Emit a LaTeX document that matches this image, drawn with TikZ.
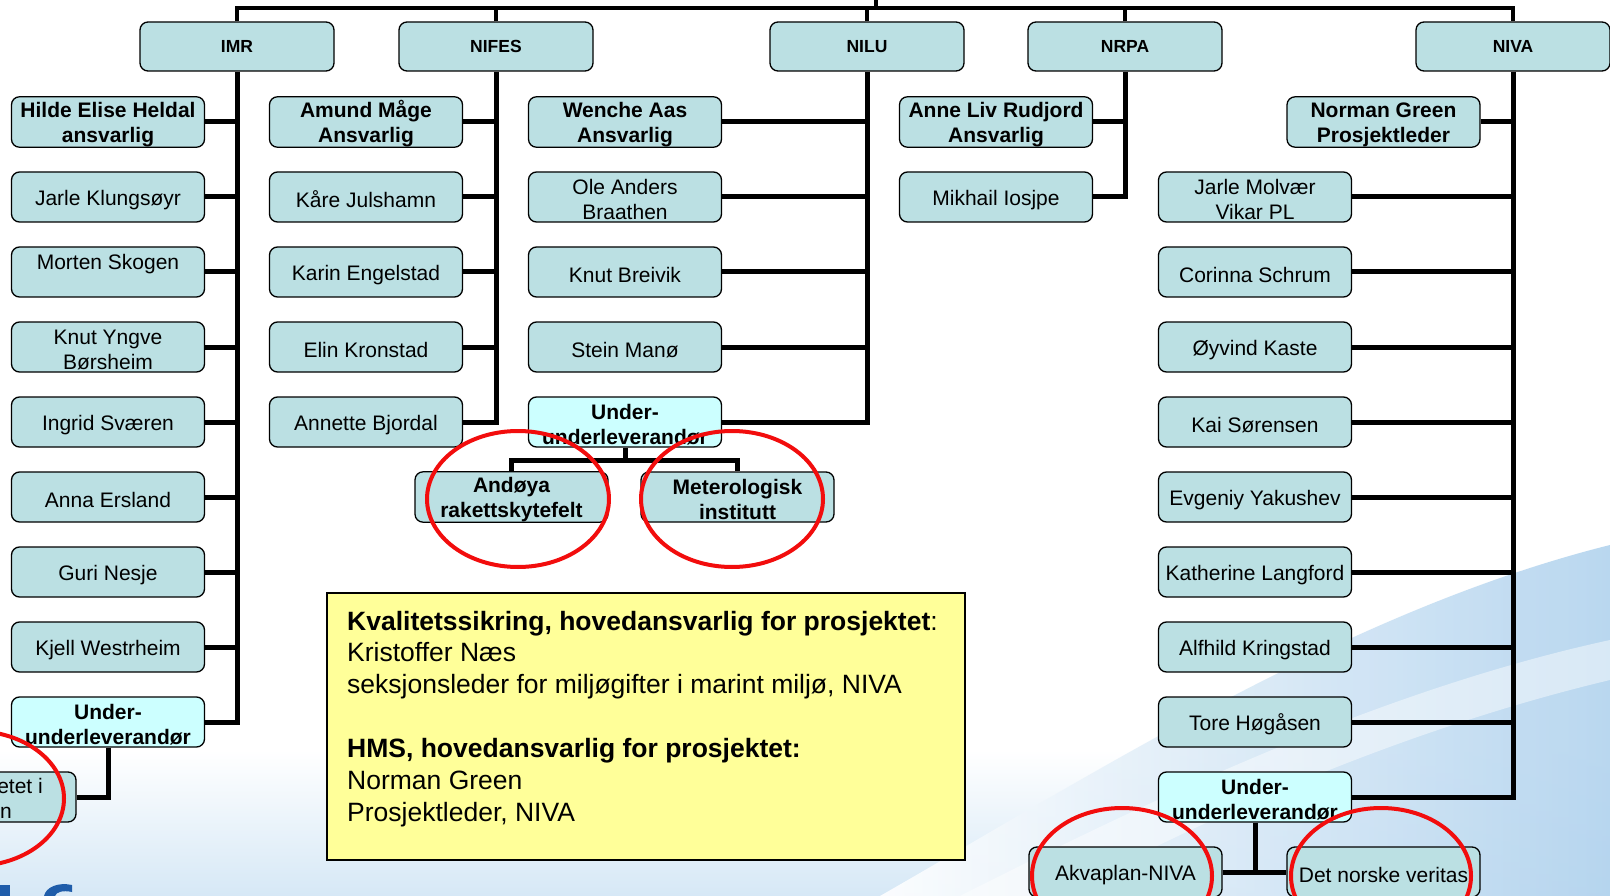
\documentclass[tikz,border=0pt]{standalone}
\usepackage{fontspec}
\setmainfont{Liberation Sans}
\definecolor{boxblue}{HTML}{BBE0E3}
\definecolor{subcyan}{HTML}{CCFFFF}
\definecolor{yellowbg}{HTML}{FFFF99}
\definecolor{bgblue}{HTML}{D6E8F6}
\definecolor{swirlblue}{HTML}{B2D3EE}
\definecolor{logoblue}{HTML}{1F5DAA}
\definecolor{ringred}{HTML}{F20D0D}
\newcommand{\fs}{\rule{0pt}{21pt}}
\begin{document}
\begin{tikzpicture}[x=1pt,y=-1pt,
  person/.style={draw=black, line width=1.3pt, fill=boxblue, rounded corners=8pt,
    minimum width=193pt, minimum height=50pt, inner sep=0pt, align=center,
    font=\fontsize{21}{25}\selectfont},
  lead/.style={person, font=\bfseries\fontsize{21}{25}\selectfont},
  subbox/.style={lead, fill=subcyan},
  head/.style={person, font=\bfseries\fontsize{17.5}{21}\selectfont, minimum width=194pt, minimum height=49pt},
  conn/.style={line width=5pt},
  topline/.style={line width=4pt},
  ring/.style={draw=ringred, line width=4pt},
  qtext/.style={anchor=base west, inner sep=0pt, font=\fontsize{26.5}{32}\selectfont},
  frag/.style={anchor=base east, inner sep=0pt, font=\fontsize{21}{25}\selectfont}]
\useasboundingbox (0,0) rectangle (1610,896);
% background
\fill[white] (0,0) rectangle (1610,896);
\shade[top color=white, bottom color=bgblue] (0,750) rectangle (1610,896);
\shade[left color=white, right color=swirlblue, opacity=0.9]
  (880,896) .. controls (1100,770) and (1350,610) .. (1610,545) -- (1610,896) -- cycle;
\fill[white, opacity=0.45]
  (960,896) .. controls (1150,800) and (1380,690) .. (1610,640) -- (1610,680)
  .. controls (1400,730) and (1200,820) .. (1060,896) -- cycle;
\fill[logoblue] (0,885) rectangle (10,896);
\fill[logoblue] (44,896) .. controls (46,887) and (58,882) .. (72,885) -- (72,892)
  .. controls (63,890) and (56,892) .. (55,896) -- cycle;

% headers
\node[head] (imr) at (237,46.5) {IMR};
\node[head] (nifes) at (496,46.5) {NIFES};
\node[head] (nilu) at (867,46.5) {NILU};
\node[head] (nrpa) at (1125,46.5) {NRPA};
\node[head] (niva) at (1513,46.5) {NIVA};
\coordinate (topin) at (876,0);
\coordinate (topj) at (876,8);
\draw[topline] (imr.north) -- (imr.north |- topj) -- (niva.north |- topj) -- (niva.north);
\draw[topline] (topin) -- (topj);
\draw[topline] (nifes.north) -- (nifes.north |- topj);
\draw[topline] (nilu.north) -- (nilu.north |- topj);
\draw[topline] (nrpa.north) -- (nrpa.north |- topj);

% IMR
\node[lead] (hilde) at (108,122) {\fs Hilde Elise Heldal\\ansvarlig};
\node[person] (jarlek) at (108,197) {\fs Jarle Klungsøyr};
\node[person] (morten) at (108,272) {\fs Morten Skogen\\\mbox{}};
\node[person] (knuty) at (108,347) {\fs Knut Yngve\\Børsheim};
\node[person] (ingrid) at (108,422) {\fs Ingrid Sværen};
\node[person] (anna) at (108,497) {\fs Anna Ersland};
\node[person] (guri) at (108,572) {\fs Guri Nesje};
\node[person] (kjell) at (108,647) {\fs Kjell Westrheim};
\node[subbox] (uimr) at (108,722) {\fs Under-\\underleverandør};
\node[person] (uib) at (-20.5,797) {};
\node[frag] (uibA) at (43,793) {etet i};
\node[frag] (uibB) at (12,818) {n};
\draw[conn] (imr.south) |- (uimr.east);
\foreach \n in {hilde,jarlek,morten,knuty,ingrid,anna,guri,kjell}
  \draw[conn] (\n.east) -- (\n.east -| imr.south);
\draw[conn] (uimr.south) |- (uib.east);

% NIFES
\node[lead] (amund) at (366,122) {\fs Amund Måge\\Ansvarlig};
\node[person] (kare) at (366,197) {\fs Kåre Julshamn};
\node[person] (karin) at (366,272) {\fs Karin Engelstad};
\node[person] (elin) at (366,347) {\fs Elin Kronstad};
\node[person] (annette) at (366,422) {\fs Annette Bjordal};
\draw[conn] (nifes.south) |- (annette.east);
\foreach \n in {amund,kare,karin,elin}
  \draw[conn] (\n.east) -- (\n.east -| nifes.south);

% NILU
\node[lead] (wenche) at (625,122) {\fs Wenche Aas\\Ansvarlig};
\node[person] (ole) at (625,197) {\fs Ole Anders\\Braathen};
\node[person] (knutb) at (625,272) {\fs Knut Breivik};
\node[person] (stein) at (625,347) {\fs Stein Manø};
\node[subbox] (unilu) at (625,422) {\fs Under-\\underleverandør};
\node[lead] (andoya) at (511.5,497) {\fs Andøya\\rakettskytefelt};
\node[lead] (met) at (737.5,497) {\fs Meterologisk\\institutt};
\draw[conn] (nilu.south) |- (unilu.east);
\foreach \n in {wenche,ole,knutb,stein}
  \draw[conn] (\n.east) -- (\n.east -| nilu.south);
\coordinate (jnilu) at (625,460);
\draw[conn] (unilu.south) -- (jnilu);
\draw[conn] (andoya.north) |- (jnilu) -| (met.north);

% NRPA
\node[lead] (anne) at (996,122) {\fs Anne Liv Rudjord\\Ansvarlig};
\node[person] (mikhail) at (996,197) {\fs Mikhail Iosjpe};
\draw[conn] (nrpa.south) |- (mikhail.east);
\draw[conn] (anne.east) -- (anne.east -| nrpa.south);

% NIVA
\node[lead] (norman) at (1383.5,122) {\fs Norman Green\\Prosjektleder};
\node[person] (jarlem) at (1255,197) {\fs Jarle Molvær\\Vikar PL};
\node[person] (corinna) at (1255,272) {\fs Corinna Schrum};
\node[person] (oyvind) at (1255,347) {\fs Øyvind Kaste};
\node[person] (kai) at (1255,422) {\fs Kai Sørensen};
\node[person] (evgeniy) at (1255,497) {\fs Evgeniy Yakushev};
\node[person] (katherine) at (1255,572) {\fs Katherine Langford};
\node[person] (alfhild) at (1255,647) {\fs Alfhild Kringstad};
\node[person] (tore) at (1255,722) {\fs Tore Høgåsen};
\node[subbox] (univa) at (1255,797) {\fs Under-\\underleverandør};
\node[person] (akva) at (1125.5,872) {\fs Akvaplan-NIVA};
\node[person] (dnv) at (1383.5,872) {\fs Det norske veritas};
\draw[conn] (niva.south) |- (univa.east);
\foreach \n in {norman,jarlem,corinna,oyvind,kai,evgeniy,katherine,alfhild,tore}
  \draw[conn] (\n.east) -- (\n.east -| niva.south);
\draw[conn] (akva.east) -- (dnv.west);
\draw[conn] (univa.south) -- (univa.south |- akva.east);

% quality box
\node[draw=black, fill=yellowbg, line width=1.5pt, minimum width=638pt, minimum height=267pt, inner sep=0pt] (qbox) at (646,726.5) {};
\node[qtext] (q1) at (347,630) {\textbf{Kvalitetssikring, hovedansvarlig for prosjektet}:};
\node[qtext] (q2) at (347,661) {Kristoffer Næs};
\node[qtext] (q3) at (347,693) {seksjonsleder for miljøgifter i marint miljø, NIVA};
\node[qtext] (q4) at (347,757) {\textbf{HMS, hovedansvarlig for prosjektet:}};
\node[qtext] (q5) at (347,789) {Norman Green};
\node[qtext] (q6) at (347,821) {Prosjektleder, NIVA};

% red rings
\draw[ring] (518,499) ellipse [x radius=91pt, y radius=68pt];
\draw[ring] (732,499) ellipse [x radius=91pt, y radius=68pt];
\draw[ring] (1122,876) ellipse [x radius=90pt, y radius=68pt];
\draw[ring] (1381,876) ellipse [x radius=90pt, y radius=68pt];
\draw[ring] (-26,798.5) ellipse [x radius=90pt, y radius=67.5pt];
\end{tikzpicture}
\end{document}
